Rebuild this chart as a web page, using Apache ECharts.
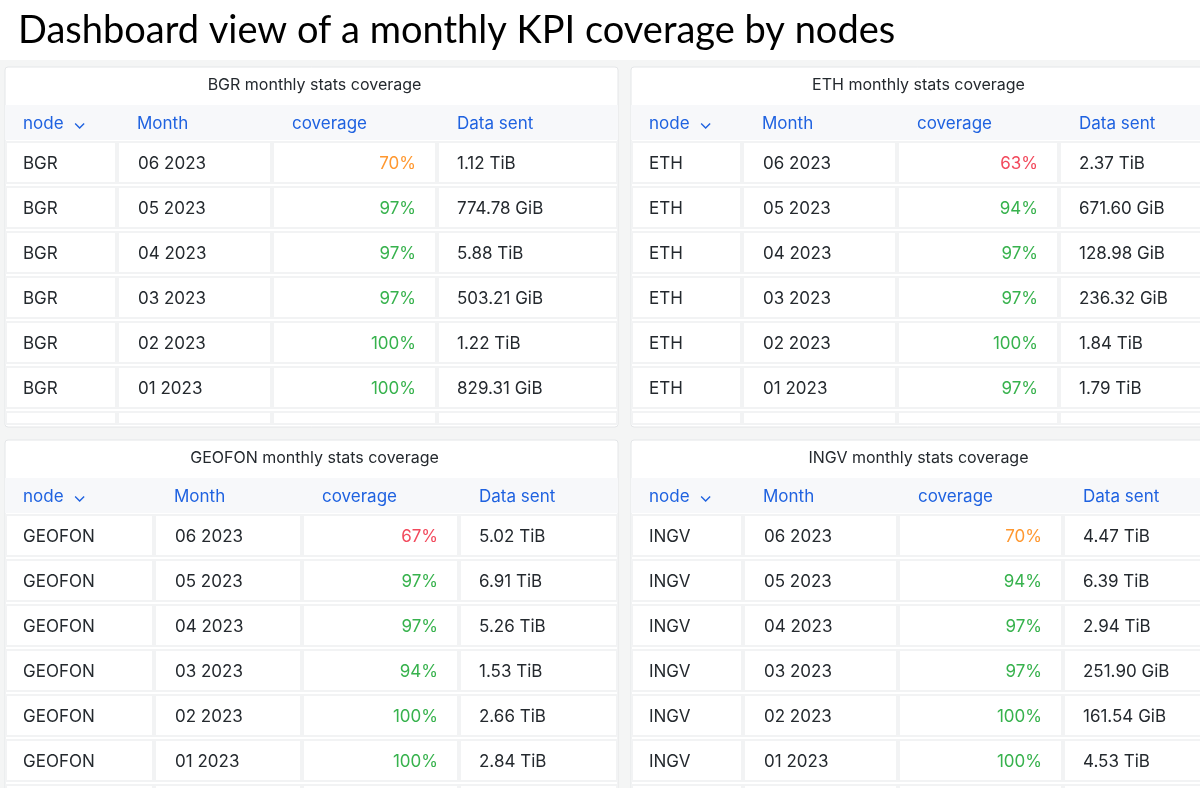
<!DOCTYPE html>
<html>
<head>
<meta charset="utf-8">
<script src="https://cdn.jsdelivr.net/npm/echarts@6/dist/echarts.min.js"></script>
<style>html,body{margin:0;padding:0;background:#fff}#main{width:1200px;height:788px}</style>
</head>
<body>
<div id="main"></div>
<script>
// 数据
var headers = ['node', 'Month', 'coverage', 'Data sent'];
var months = ['06 2023', '05 2023', '04 2023', '03 2023', '02 2023', '01 2023'];
var nodes = ['BGR', 'ETH', 'GEOFON', 'INGV'];
var coverBGR = [70, 97, 97, 97, 100, 100];
var coverETH = [63, 94, 97, 97, 100, 97];
var coverGEOFON = [67, 97, 97, 94, 100, 100];
var coverINGV = [70, 94, 97, 97, 100, 100];
var sentBGR = ['1.12 TiB', '774.78 GiB', '5.88 TiB', '503.21 GiB', '1.22 TiB', '829.31 GiB'];
var sentETH = ['2.37 TiB', '671.60 GiB', '128.98 GiB', '236.32 GiB', '1.84 TiB', '1.79 TiB'];
var sentGEOFON = ['5.02 TiB', '6.91 TiB', '5.26 TiB', '1.53 TiB', '2.66 TiB', '2.84 TiB'];
var sentINGV = ['4.47 TiB', '6.39 TiB', '2.94 TiB', '251.90 GiB', '161.54 GiB', '4.53 TiB'];

// 面板位置
var panels = [
    {node: 'BGR', cover: coverBGR, sent: sentBGR, x: 5, y: 67, w: 613, h: 360, cols: [5, 117, 272, 437, 618]},
    {node: 'ETH', cover: coverETH, sent: sentETH, x: 631, y: 67, w: 575, h: 360, cols: [631, 742, 897, 1059, 1206]},
    {node: 'GEOFON', cover: coverGEOFON, sent: sentGEOFON, x: 5, y: 440, w: 613, h: 360, cols: [5, 154, 302, 459, 618]},
    {node: 'INGV', cover: coverINGV, sent: sentINGV, x: 631, y: 440, w: 575, h: 360, cols: [631, 743, 898, 1063, 1206]}
];

function coverColor(v) {
    if (v < 68) return '#f2495c';
    if (v < 80) return '#ff9830';
    return '#37b24d';
}

var FONT = 'Inter, "Noto Sans", sans-serif';
var els = [];
els.push({type: 'rect', shape: {x: 0, y: 60, width: 1200, height: 728}, style: {fill: '#f4f5f5'}});
els.push({type: 'text', left: 18, top: 12, style: {text: 'Dashboard view of a monthly KPI coverage by nodes', font: '38px Lato, "DejaVu Sans", sans-serif', fill: '#000'}});

panels.forEach(function (p) {
    var c = p.cols;
    els.push({type: 'rect', shape: {x: p.x, y: p.y, width: p.w, height: p.h, r: 3}, style: {fill: '#fff', stroke: '#e4e6e8', lineWidth: 1}});
    els.push({type: 'text', x: (p.x + Math.min(p.x + p.w, 1200)) / 2 + 3, y: p.y + 18, style: {text: p.node + ' monthly stats coverage', font: '16px ' + FONT, fill: '#24292e', align: 'center', verticalAlign: 'middle'}});
    els.push({type: 'rect', shape: {x: p.x, y: p.y + 38, width: p.w, height: 35}, style: {fill: '#f7f8fa'}});
    headers.forEach(function (h, k) {
        els.push({type: 'text', x: c[k] + 18 + (k > 0 ? 2 : 0), y: p.y + 57, style: {text: h + (k === 0 ? '  \u2304' : ''), font: '17px ' + FONT, fill: '#1f62e0', verticalAlign: 'middle'}});
    });
    for (var i = 0; i <= months.length; i++) {
        var ry = p.y + 73 + i * 45;
        var rh = Math.min(45, p.y + p.h - ry - 1);
        for (var k = 0; k < 4; k++) {
            els.push({type: 'rect', shape: {x: c[k] + 1, y: ry + 2, width: c[k + 1] - c[k] - 2, height: rh - 4}, style: {fill: '#fff', stroke: '#f2f3f4', lineWidth: 2}});
        }
        if (i === months.length) break;
        var cy = ry + 24;
        var f = '17px ' + FONT;
        els.push({type: 'text', x: c[0] + 18, y: cy, style: {text: p.node, font: f, fill: '#24292e', verticalAlign: 'middle'}});
        els.push({type: 'text', x: c[1] + 21, y: cy, style: {text: months[i], font: f, fill: '#24292e', verticalAlign: 'middle'}});
        els.push({type: 'text', x: c[3] - 21, y: cy, style: {text: p.cover[i] + '%', font: f, fill: coverColor(p.cover[i]), align: 'right', verticalAlign: 'middle'}});
        els.push({type: 'text', x: c[3] + 20, y: cy, style: {text: p.sent[i], font: f, fill: '#24292e', verticalAlign: 'middle'}});
    }
});

var chart = echarts.init(document.getElementById('main'));
chart.setOption({graphic: {elements: els}});
</script>
</body>
</html>
